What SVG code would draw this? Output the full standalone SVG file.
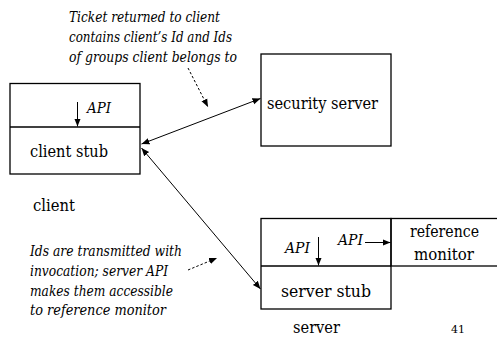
<svg xmlns="http://www.w3.org/2000/svg" width="497" height="339" viewBox="0 0 497 339">
<style>
.box{fill:none;stroke:#000;stroke-width:1.3}
.ln{fill:none;stroke:#000;stroke-width:1}
.dash{fill:none;stroke:#000;stroke-width:1;stroke-dasharray:2.5 2}
text{font-family:'DejaVu Serif','Liberation Serif',serif;fill:#000}
.t{font-size:17px}
.i{font-size:14.5px;font-style:italic}
.s{font-size:11px}
</style>
<defs>
<marker id="ah" viewBox="0 0 10 10" refX="10" refY="5" markerWidth="8" markerHeight="8" markerUnits="userSpaceOnUse" orient="auto-start-reverse">
<path d="M0,1 L10,5 L0,9 z" fill="#000"/>
</marker>
</defs>
<rect width="497" height="339" fill="#fff"/>
<g id="client">
<rect class="box" x="10" y="83.5" width="130" height="90.5"/>
<line class="box" x1="10" y1="127" x2="140" y2="127"/>
<line class="ln" x1="77.5" y1="102" x2="77.5" y2="126.5" marker-end="url(#ah)"/>
<text class="i" x="87" y="113" textLength="24" lengthAdjust="spacingAndGlyphs">API</text>
<text class="t" x="30" y="157" textLength="78" lengthAdjust="spacingAndGlyphs">client stub</text>
<text class="t" x="33" y="211" textLength="42" lengthAdjust="spacingAndGlyphs">client</text>
</g>
<g id="security-server">
<rect class="box" x="261" y="54" width="130" height="92"/>
<text class="t" x="267" y="109" textLength="111" lengthAdjust="spacingAndGlyphs">security server</text>
</g>
<g id="server">
<rect class="box" x="261" y="218.5" width="130" height="90.5"/>
<line class="box" x1="261" y1="266" x2="391" y2="266"/>
<line class="ln" x1="318.5" y1="237" x2="318.5" y2="265.5" marker-end="url(#ah)"/>
<text class="i" x="285" y="253" textLength="25" lengthAdjust="spacingAndGlyphs">API</text>
<text class="i" x="338" y="245" textLength="25" lengthAdjust="spacingAndGlyphs">API</text>
<line class="ln" x1="365" y1="242.5" x2="390.5" y2="242.5" marker-end="url(#ah)"/>
<text class="t" x="281" y="297" textLength="90" lengthAdjust="spacingAndGlyphs">server stub</text>
<text class="t" x="293" y="333" textLength="47" lengthAdjust="spacingAndGlyphs">server</text>
</g>
<g id="reference-monitor">
<rect class="box" x="391" y="218.5" width="120" height="47.5"/>
<text class="t" x="410" y="237" textLength="69" lengthAdjust="spacingAndGlyphs">reference</text>
<text class="t" x="414" y="260" textLength="60" lengthAdjust="spacingAndGlyphs">monitor</text>
</g>
<g id="notes">
<text class="i" x="69" y="22" textLength="151" lengthAdjust="spacingAndGlyphs">Ticket returned to client</text>
<text class="i" x="69" y="42" textLength="163" lengthAdjust="spacingAndGlyphs">contains client’s Id and Ids</text>
<text class="i" x="69" y="62" textLength="168" lengthAdjust="spacingAndGlyphs">of groups client belongs to</text>
<text class="i" x="30" y="256" textLength="152" lengthAdjust="spacingAndGlyphs">Ids are transmitted with</text>
<text class="i" x="30" y="276" textLength="138" lengthAdjust="spacingAndGlyphs">invocation; server API</text>
<text class="i" x="30" y="296" textLength="143" lengthAdjust="spacingAndGlyphs">makes them accessible</text>
<text class="i" x="30" y="315" textLength="136" lengthAdjust="spacingAndGlyphs">to reference monitor</text>
<text class="s" x="451" y="333">41</text>
</g>
<g id="connectors">
<line class="ln" x1="141.5" y1="144" x2="260.5" y2="98.5" marker-start="url(#ah)" marker-end="url(#ah)"/>
<line class="ln" x1="141.5" y1="148" x2="260.5" y2="289" marker-start="url(#ah)" marker-end="url(#ah)"/>
<line class="dash" x1="188" y1="68" x2="208" y2="107" marker-end="url(#ah)"/>
<line class="dash" x1="188" y1="270" x2="217" y2="258" marker-end="url(#ah)"/>
</g>
</svg>
